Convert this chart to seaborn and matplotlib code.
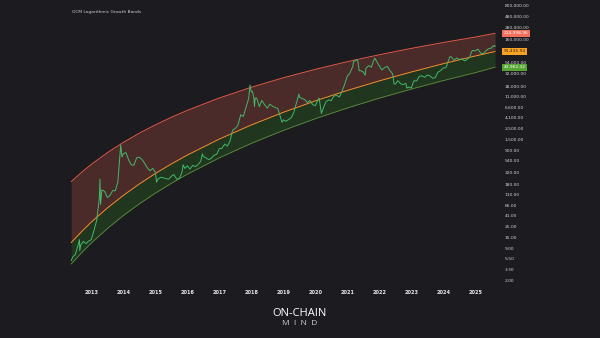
import numpy as np
import pandas as pd
import matplotlib
matplotlib.use("Agg")
import matplotlib.pyplot as plt
import seaborn as sns
from matplotlib.transforms import blended_transform_factory
from matplotlib.ticker import NullLocator, FixedLocator, FixedFormatter

# ---------------- data ----------------
band_year = [2012.37, 2012.7, 2013, 2013.5, 2014, 2014.5, 2015, 2015.5, 2016, 2017,
             2018, 2019, 2020, 2021, 2022, 2023, 2024, 2025, 2025.62]
band_upper = [204, 318, 459, 793, 1286, 1981, 2926, 4173, 5781, 10330,
              17080, 26650, 39620, 56680, 78480, 105800, 139400, 179900, 214998.96]
band_middle = [11.7, 19.7, 30.6, 59.3, 107, 183, 299, 468, 710, 1505,
               2915, 5275, 9015, 14700, 23040, 34950, 51550, 74030, 91435.94]
band_lower = [4.28, 7.33, 11.5, 22.6, 41.6, 72, 119, 188.6, 289, 624,
              1229, 2258, 3912, 6462, 10240, 15700, 23380, 33900, 43962.32]

price_year = [2012.37, 2012.42, 2012.50, 2012.58, 2012.63, 2012.64, 2012.67, 2012.75,
              2012.83, 2012.92, 2013.00, 2013.08, 2013.17, 2013.25, 2013.27, 2013.29,
              2013.33, 2013.42, 2013.50, 2013.58, 2013.67, 2013.75, 2013.83, 2013.92,
              2013.96, 2014.00, 2014.08, 2014.17, 2014.25, 2014.33, 2014.42, 2014.50,
              2014.58, 2014.67, 2014.75, 2014.83, 2014.92, 2015.00, 2015.04, 2015.08,
              2015.17, 2015.25, 2015.33, 2015.42, 2015.50, 2015.58, 2015.67, 2015.75,
              2015.83, 2015.87, 2015.92, 2016.00, 2016.08, 2016.17, 2016.25, 2016.33,
              2016.42, 2016.47, 2016.50, 2016.58, 2016.67, 2016.75, 2016.83, 2016.92,
              2017.00, 2017.08, 2017.17, 2017.25, 2017.33, 2017.42, 2017.50, 2017.58,
              2017.67, 2017.75, 2017.83, 2017.92, 2017.96, 2018.00, 2018.04, 2018.08,
              2018.10, 2018.12, 2018.17, 2018.25, 2018.33, 2018.42, 2018.50, 2018.58,
              2018.67, 2018.75, 2018.83, 2018.92, 2018.96, 2019.00, 2019.08, 2019.17,
              2019.25, 2019.33, 2019.42, 2019.49, 2019.50, 2019.58, 2019.67, 2019.75,
              2019.83, 2019.92, 2020.00, 2020.08, 2020.12, 2020.19, 2020.25, 2020.33,
              2020.42, 2020.50, 2020.58, 2020.67, 2020.75, 2020.83, 2020.92, 2021.00,
              2021.08, 2021.17, 2021.20, 2021.25, 2021.29, 2021.33, 2021.37, 2021.42,
              2021.50, 2021.56, 2021.58, 2021.67, 2021.75, 2021.83, 2021.86, 2021.92,
              2022.00, 2022.08, 2022.17, 2022.25, 2022.33, 2022.42, 2022.46, 2022.50,
              2022.58, 2022.67, 2022.75, 2022.83, 2022.86, 2022.92, 2023.00, 2023.08,
              2023.17, 2023.25, 2023.33, 2023.42, 2023.50, 2023.58, 2023.67, 2023.75,
              2023.83, 2023.92, 2024.00, 2024.08, 2024.17, 2024.20, 2024.25, 2024.33,
              2024.42, 2024.50, 2024.58, 2024.67, 2024.75, 2024.83, 2024.88, 2024.92,
              2025.00, 2025.08, 2025.17, 2025.25, 2025.33, 2025.42, 2025.50, 2025.54,
              2025.58, 2025.60, 2025.62]
price_close = [5.0, 6.0, 6.7, 10.0, 13.5, 8.0, 10.5, 12.4,
               11.2, 12.6, 13.5, 20.4, 33.4, 93, 230, 70,
               139, 129, 97, 106, 135, 133, 204, 1150,
               650, 757, 800, 560, 450, 440, 630, 640,
               580, 480, 390, 340, 380, 320, 200, 230,
               250, 245, 235, 230, 263, 285, 230, 236,
               310, 450, 380, 430, 370, 437, 415, 450,
               530, 750, 670, 625, 575, 610, 700, 740,
               960, 970, 1190, 1080, 1350, 2300, 2480, 2870,
               4700, 4340, 6470, 10200, 19000, 13800, 14000, 10200,
               6900, 10300, 10300, 6900, 9200, 7500, 6400, 7700,
               7000, 6600, 6300, 4000, 3300, 3700, 3450, 3800,
               4100, 5300, 8600, 12500, 10800, 10100, 9600, 8300,
               9200, 7550, 7200, 9350, 10300, 5000, 6400, 8600,
               9450, 9140, 11350, 11650, 10780, 13800, 19700, 29000,
               33100, 45200, 58000, 58800, 63000, 57700, 37000, 37300,
               35000, 30000, 41500, 47100, 43800, 61300, 67000, 57000,
               46300, 38500, 43200, 45500, 37700, 31800, 20000, 19800,
               23300, 20000, 19400, 20500, 16500, 17200, 16500, 23100,
               23100, 28500, 29300, 27200, 30500, 29200, 26000, 27000,
               34500, 37700, 42300, 42600, 61200, 71000, 71300, 60600,
               67500, 62700, 64600, 58900, 63300, 70300, 90000, 96400,
               93400, 102400, 84300, 82500, 94200, 104600, 107100, 117000,
               115800, 123000, 117000]

year_ticks = list(range(2013, 2026))
price_ticks = [2, 3.3, 5.5, 9, 15, 25, 41, 66, 110, 180, 320, 540, 900, 1500,
               2500, 4100, 6600, 11000, 18000, 32000, 54000, 160000, 280000,
               480000, 800000]

title_text = "OCM Logarithmic Growth Bands"

# ---------------- style ----------------
BG = "#1b1b20"
sns.set_theme(style="dark", rc={"axes.facecolor": BG, "figure.facecolor": BG,
                                "axes.grid": False})
plt.rcParams["font.family"] = ["DejaVu Sans"]

fig = plt.figure(figsize=(6.0, 3.38), dpi=100)
ax = fig.add_axes([0.0, 1 - 287 / 338, 500 / 600, 287 / 338])
ax.set_facecolor(BG)

bands = pd.DataFrame({"year": band_year, "upper": band_upper,
                      "middle": band_middle, "lower": band_lower})
prices = pd.DataFrame({"year": price_year, "close": price_close})

ax.fill_between(bands["year"], bands["middle"], bands["upper"],
                color="#4a2b29", lw=0, zorder=1)
ax.fill_between(bands["year"], bands["lower"], bands["middle"],
                color="#21361f", lw=0, zorder=1)

sns.lineplot(data=bands, x="year", y="upper", ax=ax, color="#e35a48", lw=0.7, zorder=3)
sns.lineplot(data=bands, x="year", y="middle", ax=ax, color="#f0922b", lw=0.7, zorder=3)
sns.lineplot(data=bands, x="year", y="lower", ax=ax, color="#5d8e3c", lw=0.6, zorder=3)
sns.lineplot(data=prices, x="year", y="close", ax=ax, color="#43b86a", lw=0.7, zorder=4)

ax.set_yscale("log")
ax.set_xlim(2010.147, 2025.772)
ax.set_ylim(1.461, 1.023e6)

ax.set_xlabel("")
ax.set_ylabel("")
for s in ax.spines.values():
    s.set_visible(False)

ax.yaxis.tick_right()
ax.yaxis.set_major_locator(FixedLocator(price_ticks))
ax.yaxis.set_major_formatter(FixedFormatter([f"{v:,.2f}" for v in price_ticks]))
ax.yaxis.set_minor_locator(NullLocator())
ax.tick_params(axis="y", length=0, pad=3.5, labelsize=3.2, labelcolor="#d6d6d6")

ax.set_xticks(year_ticks)
ax.set_xticklabels([str(y) for y in year_ticks])
ax.tick_params(axis="x", length=0, pad=2.5, labelsize=3.6, labelcolor="#e8e8e8")
for lab in ax.get_xticklabels():
    lab.set_fontweight("bold")

# last-value badges on the price scale
tr = blended_transform_factory(ax.transAxes, ax.transData)
badges = [(band_upper[-1], "#f26f5c", "white"),
          (band_middle[-1], "#f7a125", "#3a2a10"),
          (band_lower[-1], "#56a534", "white")]
for val, bg, fg in badges:
    ax.text(1.007, val, f"{val:,.2f}", transform=tr, ha="left", va="center",
            fontsize=3.2, color=fg, zorder=10, clip_on=False,
            bbox=dict(boxstyle="square,pad=0.35", fc=bg, ec="none"))

fig.text(72 / 600, 1 - 12 / 338, title_text, fontsize=3.2, color="#cfcfcf",
         ha="left", va="center")

fig.text(0.5, 1 - 313 / 338, "ON-CHAIN", fontsize=8, color="white",
         ha="center", va="center", family="Open Sans")
fig.text(0.5, 1 - 323.5 / 338, "M  I  N  D", fontsize=6, color="#cfcfcf",
         ha="center", va="center", family="Open Sans")

fig.savefig("out.png", dpi=100, facecolor=BG)
